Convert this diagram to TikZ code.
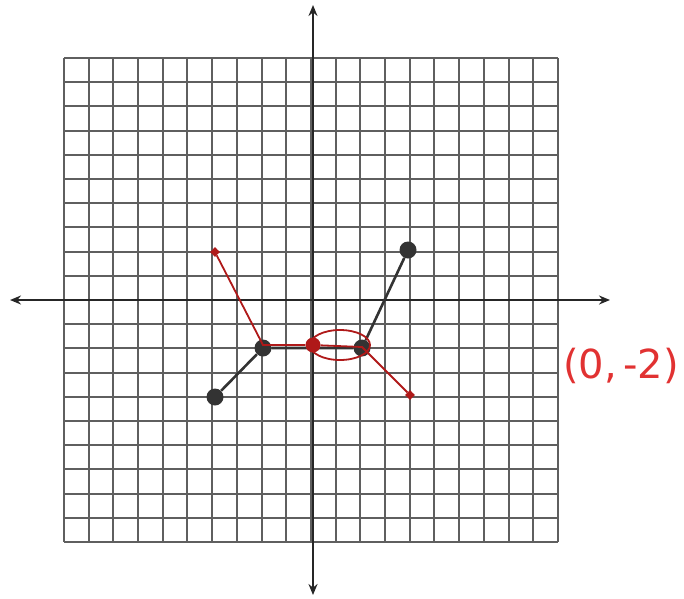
\documentclass[tikz,border=0pt]{standalone}
\usepackage{fontspec}
\setsansfont{DejaVu Sans}
\usetikzlibrary{arrows.meta,shapes.geometric}
\definecolor{hred}{RGB}{225,50,50}
\definecolor{dred}{RGB}{175,25,25}
\definecolor{gridc}{RGB}{95,95,95}
\begin{document}
\begin{tikzpicture}[x=1pt,y=-1pt,
  gridline/.style={draw=gridc,line width=2pt},
  axis/.style={draw=black!85,line width=2.6pt,-{Stealth[length=11pt,width=9pt]}},
  bdot/.style={circle,fill=black!80,minimum size=17pt,inner sep=0pt},
  rdot/.style={circle,fill=dred,minimum size=15pt,inner sep=0pt},
  rstar/.style={star,star points=4,fill=dred,minimum size=10pt,inner sep=0pt},
  redline/.style={draw=dred,line width=1.8pt},
  blackline/.style={draw=black!80,line width=2.6pt}]
\useasboundingbox (0,0) rectangle (684,598);
% grid
\foreach \i in {0,...,20} {
  \pgfmathsetmacro{\gx}{round(64+\i*24.7)}
  \pgfmathsetmacro{\gy}{round(58+\i*24.2)}
  \draw[gridline] (\gx,58) -- (\gx,542);
  \draw[gridline] (64,\gy) -- (558,\gy);
}
% axes
\coordinate (xl) at (10,300);
\coordinate (xr) at (610,300);
\coordinate (yt) at (313,5);
\coordinate (yb) at (313,595);
\coordinate (o) at (313,300);
\draw[axis] (o) -- (xl);
\draw[axis] (o) -- (xr);
\draw[axis] (o) -- (yt);
\draw[axis] (o) -- (yb);
% black figure
\node[bdot] (b1) at (215,397) {};
\node[bdot] (b2) at (263,348) {};
\node[bdot] (b3) at (362,348) {};
\node[bdot] (b4) at (408,250) {};
\draw[blackline] (b1) -- (b2) -- (b3) -- (b4);
% red figure
\node[rstar] (r1) at (215,252) {};
\node[rdot] (r3) at (313,345) {};
\node[rstar] (r5) at (410,395) {};
\coordinate (r2) at (263,345);
\coordinate (r4) at (362,347);
\draw[redline] (r1) -- (r2) -- (r3) -- (r4) -- (r5);
\draw[draw=dred,line width=1.8pt] (340,345) ellipse [x radius=30, y radius=15];
% label
\node[text=hred,font=\sffamily\fontsize{40}{44}\selectfont,inner sep=0pt] (lab) at (621,366) {(0,\,-2)};
\end{tikzpicture}
\end{document}
